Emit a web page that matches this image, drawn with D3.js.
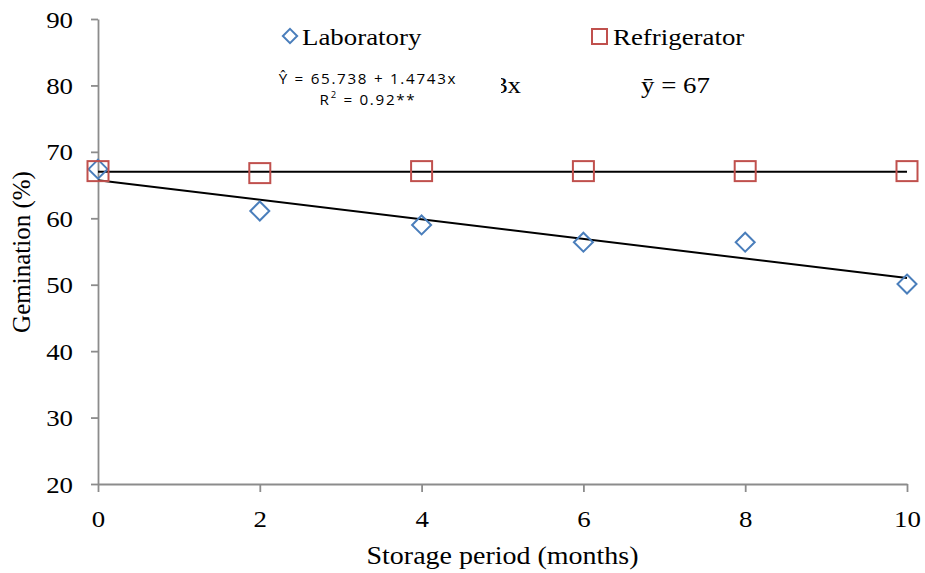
<!DOCTYPE html>
<html>
<head>
<meta charset="utf-8">
<script src="https://cdn.jsdelivr.net/npm/d3@7"></script>
<style>
  body { margin: 0; background: #fff; }
  text { font-family: "Liberation Serif", "Times New Roman", serif; fill: #000; }
</style>
</head>
<body>
<script>
// data
const months = [0, 2, 4, 6, 8, 10];
const laboratory = [67.4, 61.1, 59.0, 56.4, 56.4, 50.1];
const refrigerator = [67.1, 66.8, 67.1, 67.1, 67.1, 67.1];
const labFit = { a: 65.738, b: -1.4743 };
const refMean = 67;
const yTicks = [20, 30, 40, 50, 60, 70, 80, 90];

const W = 925, H = 573;
const margin = { top: 19, right: 18, bottom: 89, left: 98 };
const serif = '"Liberation Serif", "Times New Roman", serif';
const sans = '"Open Sans", "Liberation Sans", sans-serif';
const sx = 1.12; // the source picture is a little wider than tall

const svg = d3.select("body").append("svg")
  .attr("width", W)
  .attr("height", H);

const x = d3.scaleLinear().domain([0, 10]).range([margin.left, W - margin.right]);
const y = d3.scaleLinear().domain([20, 90]).range([H - margin.bottom, margin.top]);

const axisColor = "#8c8c8c";

// serif label, widened a bit like the original
function label(px, py, str, size, anchor) {
  return svg.append("text")
    .attr("transform", "translate(" + px + "," + py + ") scale(" + sx + ",1)")
    .attr("text-anchor", anchor || "start")
    .style("font-size", size + "px")
    .text(str);
}

// y axis
const yAxis = svg.append("g")
  .attr("transform", "translate(" + margin.left + ",0)")
  .call(d3.axisLeft(y).tickValues(yTicks).tickSize(7).tickSizeOuter(0));
yAxis.attr("font-family", null);
yAxis.select(".domain").attr("stroke", axisColor).attr("stroke-width", 1.8);
yAxis.selectAll(".tick line").attr("stroke", axisColor).attr("stroke-width", 1.8);
yAxis.selectAll(".tick text")
  .attr("x", null).attr("dy", null)
  .attr("transform", "translate(-25,8) scale(" + sx + ",1)")
  .style("font-family", serif).style("font-size", "24px").attr("fill", "#000");

// x axis
const xAxis = svg.append("g")
  .attr("transform", "translate(0," + y(20) + ")")
  .call(d3.axisBottom(x).tickValues(months).tickSize(8).tickSizeOuter(0));
xAxis.attr("font-family", null);
xAxis.select(".domain").attr("stroke", axisColor).attr("stroke-width", 1.8);
xAxis.selectAll(".tick line").attr("stroke", axisColor).attr("stroke-width", 1.8);
xAxis.selectAll(".tick text")
  .attr("y", null).attr("dy", null)
  .attr("transform", "translate(0,43) scale(" + sx + ",1)")
  .style("font-family", serif).style("font-size", "24px").attr("fill", "#000");

// axis titles
svg.append("text")
  .attr("transform", "translate(30,252) rotate(-90)")
  .attr("text-anchor", "middle")
  .style("font-size", "25px")
  .text("Gemination (%)");
label((x(0) + x(10)) / 2, 564, "Storage period (months)", 25, "middle");

// trend lines
svg.append("line")
  .attr("x1", x(0)).attr("y1", y(refMean))
  .attr("x2", x(10)).attr("y2", y(refMean))
  .attr("stroke", "#000").attr("stroke-width", 2);
svg.append("line")
  .attr("x1", x(0)).attr("y1", y(labFit.a))
  .attr("x2", x(10)).attr("y2", y(labFit.a + labFit.b * 10))
  .attr("stroke", "#000").attr("stroke-width", 2);

// markers
const blue = "#4a7ebb", red = "#c0504d";
const diamond = d3.symbol().type(d3.symbolDiamond2).size(230);
svg.append("g").selectAll("path")
  .data(months.map((m, i) => [m, laboratory[i]]))
  .join("path")
  .attr("d", diamond)
  .attr("transform", d => "translate(" + x(d[0]) + "," + y(d[1]) + ")")
  .attr("fill", "none").attr("stroke", blue).attr("stroke-width", 2);

const sw = 21, sh = 20;
svg.append("g").selectAll("rect")
  .data(months.map((m, i) => [m, refrigerator[i]]))
  .join("rect")
  .attr("x", d => x(d[0]) - sw / 2).attr("y", d => y(d[1]) - sh / 2)
  .attr("width", sw).attr("height", sh)
  .attr("fill", "none").attr("stroke", red).attr("stroke-width", 2);

// legend
svg.append("path")
  .attr("d", d3.symbol().type(d3.symbolDiamond2).size(130))
  .attr("transform", "translate(290,36)")
  .attr("fill", "none").attr("stroke", blue).attr("stroke-width", 2);
label(302, 45, "Laboratory", 24);
svg.append("rect")
  .attr("x", 592).attr("y", 29).attr("width", 15).attr("height", 15)
  .attr("fill", "none").attr("stroke", red).attr("stroke-width", 2);
label(613, 45, "Refrigerator", 24);

// equations: the serif label sits partly hidden behind the sans one in the source
svg.append("clipPath").attr("id", "eqclip")
  .append("rect").attr("x", 501).attr("y", 60).attr("width", 60).attr("height", 50);
svg.append("g").attr("clip-path", "url(#eqclip)")
  .append("text")
  .attr("transform", "translate(521,93) scale(" + sx + ",1)")
  .attr("text-anchor", "end")
  .style("font-size", "24px")
  .text("3x");

const eqStyle = sel => sel
  .attr("text-anchor", "middle")
  .style("font-family", sans)
  .style("font-size", "15.2px")
  .style("letter-spacing", "1.7px");
svg.append("text").call(eqStyle)
  .attr("x", 368).attr("y", 84)
  .text("Ŷ = 65.738 + 1.4743x");
const r2 = svg.append("text").call(eqStyle)
  .attr("x", 368).attr("y", 105);
r2.append("tspan").text("R");
r2.append("tspan").attr("dy", -7).style("font-size", "9.5px").text("2");
r2.append("tspan").attr("dy", 7).text(" = 0.92**");

label(641, 93, "ȳ = " + refMean, 24);
</script>
</body>
</html>
